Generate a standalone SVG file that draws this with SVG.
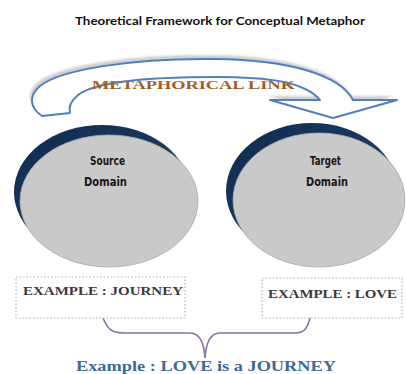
<svg xmlns="http://www.w3.org/2000/svg" width="406" height="374" viewBox="0 0 406 374">
<defs>
<style>
.title{font-family:Lato,"Liberation Sans",sans-serif;font-weight:bold;font-size:11.5px;fill:#111111}
.link{font-family:"Liberation Serif",serif;font-weight:bold;font-size:12px;fill:url(#linkGrad)}
.dom{font-family:"DejaVu Sans","Liberation Sans",sans-serif;font-weight:bold;font-size:13px;fill:#1e1414}
.ex{font-family:"Liberation Serif",serif;font-weight:bold;font-size:13px;fill:#3a3a3a}
.concl{font-family:"Liberation Serif",serif;font-weight:bold;font-size:14px;fill:#3d6a98}
.box{fill:#ffffff;stroke:#9cbad2;stroke-width:1.2;stroke-dasharray:1.5 2}
.back{fill:url(#navy)}
.front{fill:#c9c9c9;stroke:#a8a8a8;stroke-width:0.8}
</style>
<linearGradient id="linkGrad" x1="0" y1="0" x2="0" y2="1">
<stop offset="0" stop-color="#c0702a"/>
<stop offset="1" stop-color="#8a4a1a"/>
</linearGradient>
<linearGradient id="navy" x1="0" y1="0" x2="1" y2="1">
<stop offset="0" stop-color="#0f2a4e"/>
<stop offset="1" stop-color="#24466f"/>
</linearGradient>
<filter id="blur" x="-10%" y="-20%" width="120%" height="140%">
<feGaussianBlur stdDeviation="1.2"/>
</filter>
</defs>
<rect width="406" height="374" fill="#ffffff"/>
<g id="title">
<text class="title" x="75" y="25" textLength="290" lengthAdjust="spacingAndGlyphs">Theoretical Framework for Conceptual Metaphor</text>
</g>
<g id="connectors">
<g id="metaphorical-link">
<path d="M42,116 C30,108 28,96 40,86 C60,70 130,58 215,59 C290,60 340,75 353,100 L397,100 L333,118 L270,100 L320,100 C305,82 270,77 215,77 C150,77 95,82 78,95 C72,100 68,106 70,113 Z" transform="translate(-2,-4)" fill="#cfcfcf" filter="url(#blur)"/>
<path d="M42,116 C30,108 28,96 40,86 C60,70 130,58 215,59 C290,60 340,75 353,100 L397,100 L333,118 L270,100 L320,100 C305,82 270,77 215,77 C150,77 95,82 78,95 C72,100 68,106 70,113 Z" fill="#ffffff" stroke="#4f80bd" stroke-width="2" stroke-linejoin="round"/>
<text class="link" x="92" y="89" textLength="203" lengthAdjust="spacingAndGlyphs">METAPHORICAL LINK</text>
</g>
<path id="brace" d="M103,318 C108,330 112,333 125,333 L190,333 C200,333 204,342 205,358 C206,342 210,333 220,333 L295,333 C303,333 307,330 310,318" fill="none" stroke="#8a72a2" stroke-width="1.6"/>
</g>
<g id="source-domain">
<ellipse class="back" cx="102" cy="192" rx="88" ry="67"/>
<ellipse class="front" cx="109" cy="201" rx="89" ry="66"/>
<text class="dom" x="90" y="165" textLength="35" lengthAdjust="spacingAndGlyphs">Source</text>
<text class="dom" x="84" y="186" textLength="43" lengthAdjust="spacingAndGlyphs">Domain</text>
</g>
<g id="target-domain">
<ellipse class="back" cx="312" cy="191" rx="86" ry="68"/>
<ellipse class="front" cx="319" cy="200" rx="86" ry="67"/>
<text class="dom" x="310" y="165" textLength="31" lengthAdjust="spacingAndGlyphs">Target</text>
<text class="dom" x="306" y="186" textLength="42" lengthAdjust="spacingAndGlyphs">Domain</text>
</g>
<g id="example-journey">
<rect class="box" x="16" y="277" width="169" height="41"/>
<text class="ex" x="23" y="295" textLength="160" lengthAdjust="spacingAndGlyphs">EXAMPLE : JOURNEY</text>
</g>
<g id="example-love">
<rect class="box" x="262" y="278" width="140" height="40"/>
<text class="ex" x="268" y="298" textLength="129" lengthAdjust="spacingAndGlyphs">EXAMPLE : LOVE</text>
</g>
<g id="conclusion">
<text class="concl" x="76" y="371" textLength="260" lengthAdjust="spacingAndGlyphs">Example : LOVE is a JOURNEY</text>
</g>
</svg>
